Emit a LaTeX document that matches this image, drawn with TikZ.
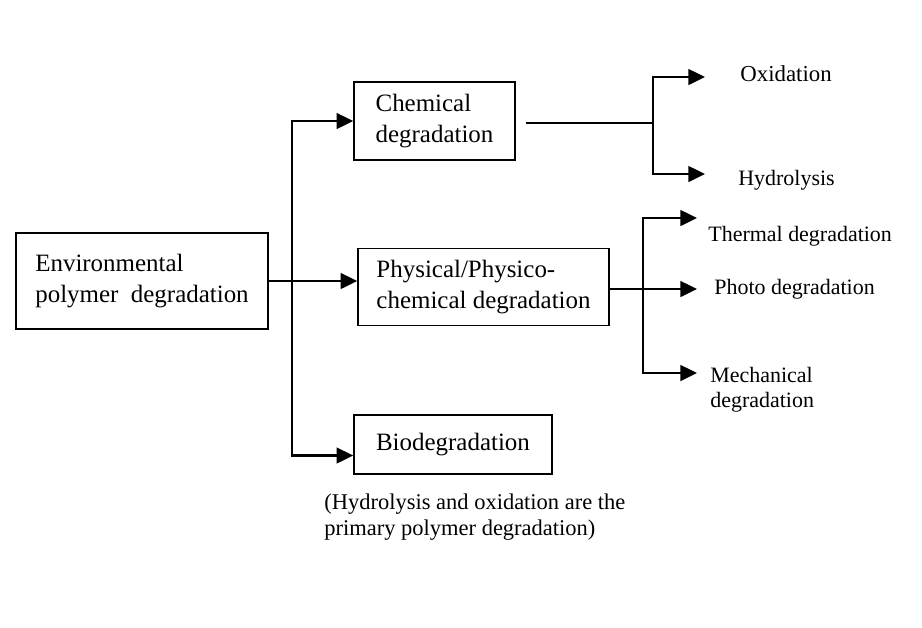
\documentclass[tikz,border=0pt]{standalone}
\usepackage{fontspec}
\setmainfont{Liberation Serif}
\usetikzlibrary{arrows.meta}
\newcommand{\boxFont}{\fontsize{14.2}{18}\selectfont}
\newcommand{\leafFont}{\fontsize{12.5}{14}\selectfont}
\newcommand{\noteFont}{\fontsize{12.8}{14.5}\selectfont}
\tikzstyle{stage}=[draw, line width=0.9pt, align=left, inner sep=0pt, font=\boxFont]
\tikzstyle{leaf}=[anchor=west, align=left, inner sep=0pt, font=\leafFont]
\tikzstyle{arrow}=[-{Triangle[length=9.5pt,width=9pt]}, line width=1.2pt]
\tikzstyle{link}=[line width=0.7pt]
\begin{document}
\begin{tikzpicture}[x=0.02cm, y=-0.02cm]
    \useasboundingbox (0,0) rectangle (922,627);
    % boxes
    \node[stage, minimum width=5.04cm, minimum height=1.92cm] (env) at (142,281)
      {Environmental\\polymer\ \ degradation};
    \node[stage, minimum width=3.22cm, minimum height=1.56cm] (chem) at (434.5,121)
      {Chemical\\degradation};
    \node[stage, minimum width=5.02cm, minimum height=1.54cm] (phys) at (483.5,287)
      {Physical/Physico-\\chemical degradation};
    \node[stage, minimum width=3.96cm, minimum height=1.18cm] (bio) at (453,444.5)
      {Biodegradation};
    \node[anchor=north west, align=left, inner sep=0pt, font=\noteFont] (note) at (324,494)
      {(Hydrolysis and oxidation are the\\primary polymer degradation)};
    % leaves
    \node[leaf, font=\fontsize{13}{15}\selectfont] (oxid) at (740,74) {Oxidation};
    \node[leaf] (hydro) at (738,180) {Hydrolysis};
    \node[leaf] (thermal) at (708,236) {Thermal degradation};
    \node[leaf] (photo) at (714,289) {Photo degradation};
    \node[leaf] (mech) at (710,390) {Mechanical\\degradation};
    % forks and arrow ends
    \coordinate (split) at (292,281);
    \coordinate (chemFork) at (653,123);
    \coordinate (physFork) at (643,289);
    \coordinate (oxidTip) at (705,77);
    \coordinate (hydroTip) at (705,174);
    \coordinate (thermalTip) at (697,218);
    \coordinate (photoTip) at (697,289);
    \coordinate (mechTip) at (697,373);
    % connectors
    \draw[arrow] (env.east) -- (env.east -| phys.west);
    \draw[arrow] (split) |- (chem.west);
    \draw[arrow] (split) |- ([yshift=-0.22cm]bio.west);
    \draw[link] ([xshift=0.2cm]chem.east |- chemFork) -- (chemFork);
    \draw[arrow] (chemFork) |- (oxidTip);
    \draw[arrow] (chemFork) |- (hydroTip);
    \draw[link] (phys.east |- physFork) -- (physFork);
    \draw[arrow] (physFork) |- (thermalTip);
    \draw[arrow] (physFork) -- (photoTip);
    \draw[arrow] (physFork) |- (mechTip);
\end{tikzpicture}
\end{document}
